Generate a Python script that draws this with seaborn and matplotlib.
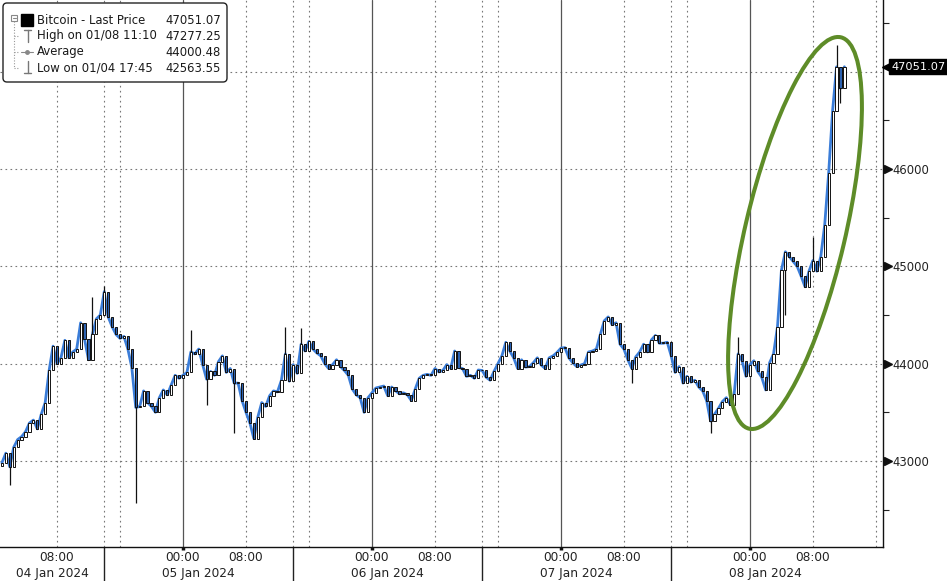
import numpy as np
import pandas as pd
import matplotlib
matplotlib.use("Agg")
import matplotlib.pyplot as plt
import matplotlib.transforms as mtransforms
from matplotlib.patches import Ellipse, FancyBboxPatch, Rectangle
from matplotlib.lines import Line2D
import seaborn as sns

# ---------------- data ----------------
start_time = "2024-01-04 01:00"          # first 30-minute candle
close = [
    42980, 43080, 42940, 43140, 43220, 43250, 43300, 43390, 43420, 43330,
    43480, 43600, 43930, 44180, 44000, 44060, 44240, 44060, 44120, 44150,
    44420, 44250, 44040, 44300, 44460, 44500, 44740, 44480, 44380, 44300,
    44260, 44280, 44150, 43960, 43550, 43560, 43720, 43600, 43560, 43500,
    43650, 43730, 43680, 43780, 43880, 43850, 43880, 43910, 44120, 44100,
    44150, 43990, 43840, 43920, 43880, 44020, 44080, 43910, 43950, 43800,
    43800, 43620, 43500, 43390, 43230, 43450, 43600, 43560, 43670, 43720,
    43710, 43830, 44100, 43820, 43990, 43900, 44200, 44130, 44230, 44150,
    44110, 44080, 44000, 43950, 43990, 44040, 43970, 43930, 43880, 43740,
    43680, 43650, 43500, 43650, 43700, 43750, 43760, 43770, 43670, 43760,
    43720, 43690, 43700, 43680, 43620, 43740, 43850, 43880, 43890, 43880,
    43950, 43915, 43930, 43990, 43950, 44130, 43960, 43950, 43870, 43880,
    43850, 43935, 43930, 43860, 43830, 43920, 44000, 44080, 44220, 44130,
    44060, 43950, 44040, 43965, 43970, 44010, 44060, 43985, 43950, 44060,
    44080, 44115, 44160, 44165, 44060, 44010, 43970, 43985, 44000, 44120,
    44130, 44150, 44300, 44440, 44480, 44400, 44420, 44200, 44150, 44040,
    43950, 44070, 44120, 44200, 44120, 44245, 44290, 44210, 44210, 44220,
    44080, 43910, 43970, 43800, 43870, 43810, 43830, 43760, 43720, 43620,
    43410, 43480, 43540, 43610, 43650, 43580, 43690, 44100, 44030, 43870,
    43990, 44030, 43920, 43860, 43730, 44010, 44100, 44380, 44960, 45150,
    45100, 45050, 45000, 44900, 44790, 44950, 45060, 44950, 45100, 45430,
    45960, 46600, 47050, 46830, 47051.07,
]
first_open = 42950
wick_idx = [2, 23, 26, 34, 48, 52, 59, 72, 76, 160, 180, 187, 199, 206, 212, 213]
wick_val = [42750, 44685, 44800, 42563.55, 44345, 43575, 43290, 44375, 44365,
            43800, 43290, 44275, 44500, 45300, 47277.25, 46680]

y_ticks = [43000, 44000, 45000, 46000, 47000]
y_tick_labels = ["43000", "44000", "45000", "46000", ""]
y_minor = [42500, 43500, 44500, 45500, 46500, 47500]
x_tick_hours = [8, 24, 32, 48, 56, 72, 80, 96, 104]
x_tick_labels = ["08:00", "00:00", "08:00", "00:00", "08:00", "00:00", "08:00", "00:00", "08:00"]
midnight_hours = [24, 48, 72, 96]
dotted_hours = [8, 14, 16, 32, 38, 40, 56, 62, 64, 80, 86, 88, 104, 112]
date_labels = ["04 Jan 2024", "05 Jan 2024", "06 Jan 2024", "07 Jan 2024", "08 Jan 2024"]
date_bounds = [0.76, 14, 38, 62, 86, 110]
last_price = 47051.07
legend_names = ["Bitcoin - Last Price", "High on 01/08 11:10", "Average", "Low on 01/04 17:45"]
legend_values = ["47051.07", "47277.25", "44000.48", "42563.55"]

# ---------------- derived ----------------
times = pd.date_range(start_time, periods=len(close), freq="30min")
hours = ((times - pd.Timestamp("2024-01-04 00:00")) / pd.Timedelta(hours=1)).to_numpy()
c = np.array(close, dtype=float)
o = np.concatenate([[first_open], c[:-1]])
df = pd.DataFrame({"hour": hours, "close": c})

W, H = 947, 581
sns.set_style("white")
plt.rcParams["font.family"] = ["DejaVu Sans"]
fig = plt.figure(figsize=(W / 100, H / 100), dpi=100)
ax = fig.add_axes([0, 34 / H, 883 / W, 547 / H])

# blue price trace
sns.lineplot(data=df, x="hour", y="close", color="#3b7dd8", lw=2.0, ax=ax, zorder=3)

# wicks
wi = np.array(wick_idx)
wv = np.array(wick_val)
lo = np.minimum(np.minimum(o[wi], c[wi]), wv)
hi = np.maximum(np.maximum(o[wi], c[wi]), wv)
ax.vlines(hours[wi], lo, hi, color="#111111", lw=0.9, zorder=3.5)

# candle bodies
up = c >= o
bw = 0.28
hgt = np.maximum(np.abs(c - o), 8)
bot = np.minimum(c, o)
ax.bar(hours[up], hgt[up], bottom=bot[up], width=bw, color="white",
       edgecolor="#111111", lw=0.7, zorder=4)
ax.bar(hours[~up], hgt[~up], bottom=bot[~up], width=bw, color="#2d62b0",
       edgecolor="#111111", lw=0.7, zorder=4)

# limits
ax.set_xlim(0.76, 112.9)
ax.set_ylim(42116, 47737)

# grid
for yv in y_ticks:
    ax.axhline(yv, color="#777777", lw=0.8, ls=(0, (1.5, 3)), zorder=1)
for xv in dotted_hours:
    ax.axvline(xv, color="#777777", lw=0.8, ls=(0, (1.5, 3)), zorder=1)
for xv in midnight_hours:
    ax.axvline(xv, color="#555555", lw=0.9, zorder=1)

# spines
for s in ["left", "top"]:
    ax.spines[s].set_visible(False)
for s in ["right", "bottom"]:
    ax.spines[s].set_color("#111111")
    ax.spines[s].set_linewidth(1.0)

# y axis
ax.yaxis.tick_right()
ax.set_yticks(y_ticks, y_tick_labels)
ax.set_yticks(y_minor, minor=True)
ax.tick_params(axis="y", which="major", length=0, pad=6.5, labelsize=8.4, labelcolor="#222222")
ax.tick_params(axis="y", which="minor", length=4, width=0.8, color="#222222", direction="out")
ax.set_ylabel("")

# x axis
ax.set_xticks(x_tick_hours, x_tick_labels)
ax.set_xticks(np.arange(4, 113, 4), minor=True)
ax.tick_params(axis="x", which="major", length=0, pad=3, labelsize=8.7, labelcolor="#222222")
ax.tick_params(axis="x", which="minor", length=4, width=0.8, color="#222222", direction="out")
ax.set_xlabel("")

xt = ax.get_xaxis_transform()
for i, lab in enumerate(date_labels):
    ax.text((date_bounds[i] + date_bounds[i + 1]) / 2, -26 / 547, lab, transform=xt,
            ha="center", va="center", fontsize=8.7, color="#222222", clip_on=False)
ax.vlines(date_bounds[1:-1], -34 / 547, 0, transform=xt, color="#222222", lw=1.0, clip_on=False)
ax.vlines(midnight_hours, -3 / 547, 0, transform=xt, color="#111111", lw=2.5, clip_on=False)

# y tick triangles
yt = ax.get_yaxis_transform() + mtransforms.ScaledTranslation(0.045, 0, fig.dpi_scale_trans)
ax.plot([1.0] * 4, y_ticks[:4], transform=yt, marker=">", ms=5.5, color="#111111",
        ls="none", clip_on=False)

# last-price tag
tag_t = ax.get_yaxis_transform() + mtransforms.ScaledTranslation(0.08, 0, fig.dpi_scale_trans)
ax.text(1.0, last_price, f"{last_price:.2f}", transform=tag_t, ha="left", va="center",
        fontsize=8.2, color="white", clip_on=False, zorder=11,
        bbox=dict(boxstyle="square,pad=0.2", fc="black", ec="black"))
arr_t = ax.get_yaxis_transform() + mtransforms.ScaledTranslation(0.04, 0, fig.dpi_scale_trans)
ax.plot([1.0], [last_price], transform=arr_t, marker="<", ms=7, color="black",
        ls="none", clip_on=False, zorder=9)

# highlight ellipse (pixel space)
ident = mtransforms.IdentityTransform()
ell = Ellipse((795, H - 233), width=100, height=402, angle=-13.2, transform=ident,
              fill=False, ec="#5e8c28", lw=2.9, zorder=8)
fig.add_artist(ell)

# legend box (pixel space)
box = FancyBboxPatch((3, H - 82), 224, 79, boxstyle="round,pad=0,rounding_size=4",
                     transform=ident, fc="white", ec="#222222", lw=1.0, zorder=20)
fig.add_artist(box)
rows_y = [20, 36, 52, 68]
for ry, name, val in zip(rows_y, legend_names, legend_values):
    fig.text(37 / W, 1 - ry / H, name, ha="left", va="center", fontsize=8.4, color="#1a1a1a", zorder=21)
    fig.text(221 / W, 1 - ry / H, val, ha="right", va="center", fontsize=8.4, color="#1a1a1a", zorder=21)

def pline(xs, ys, **kw):
    fig.add_artist(Line2D(xs, [H - y for y in ys], transform=ident, zorder=21, **kw))

# tree connector
pline([14, 14], [21, 68], color="#999999", lw=0.8, ls=(0, (1, 1.5)))
for ry in rows_y[1:]:
    pline([14, 19], [ry, ry], color="#999999", lw=0.8, ls=(0, (1, 1.5)))
fig.add_artist(Rectangle((11, H - 21), 6, 6, transform=ident, fill=False, ec="#888888", lw=0.8, zorder=21))
pline([12.5, 15.5], [18, 18], color="#888888", lw=0.8)
fig.add_artist(Rectangle((21, H - 26), 12, 12, transform=ident, fc="black", ec="black", zorder=21))
# high icon
pline([24, 31], [30, 30], color="#777777", lw=1.0)
pline([27.5, 27.5], [30, 42], color="#777777", lw=1.0)
# average icon
pline([21, 33], [52, 52], color="#888888", lw=0.8)
fig.add_artist(Line2D([27], [H - 52], transform=ident, marker="o", ms=2.5, color="#888888", zorder=21))
# low icon
pline([27.5, 27.5], [61, 73], color="#777777", lw=1.0)
pline([24, 31], [73, 73], color="#777777", lw=1.0)

fig.savefig("out.png", dpi=100)
